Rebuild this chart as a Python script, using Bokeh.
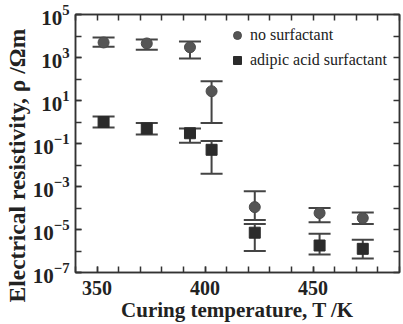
from bokeh.plotting import figure
from bokeh.models import (ColumnDataSource, Whisker, TeeHead, FixedTicker, LogAxis,
                          LinearAxis, Legend, LegendItem, LogTickFormatter, Title)
from bokeh.embed import file_html
from bokeh.resources import INLINE

# Curing temperature (K)
T = [353, 373, 393, 403, 423, 453, 473]
# no surfactant: resistivity (ohm m) with error-bar limits
no_surf = [5.0e3, 4.5e3, 3.0e3, 27, 1.1e-4, 5.8e-5, 3.4e-5]
no_surf_hi = [8.5e3, 6.9e3, 5.5e3, 79, 6.0e-4, 1.0e-4, 6.2e-5]
no_surf_lo = [3.2e3, 2.3e3, 890, 0.91, 2.8e-5, 2.2e-5, 1.8e-5]
# adipic acid surfactant
adipic = [1.0, 0.50, 0.30, 0.051, 7.1e-6, 1.8e-6, 1.26e-6]
adipic_hi = [1.78, 0.89, 0.50, 0.13, 1.8e-5, 6.3e-6, 3.3e-6]
adipic_lo = [0.55, 0.26, 0.107, 3.9e-3, 1.0e-6, 6.9e-7, 4.5e-7]

x_major = [350, 400, 450]
x_minor = [340, 350, 360, 370, 380, 390, 400, 410, 420, 430, 440, 450, 460, 470, 480, 490]
y_major = [1e-7, 1e-5, 1e-3, 1e-1, 1e1, 1e3, 1e5]
y_minor = [1e-7, 1e-6, 1e-5, 1e-4, 1e-3, 1e-2, 1e-1, 1e0, 1e1, 1e2, 1e3, 1e4, 1e5]

x_title = "Curing temperature, T /K"
y_title = "Electrical resistivity, ρ /Ωm"
series_names = ["no surfactant", "adipic acid surfactant"]

FONT = "Liberation Serif"
INK = "#222222"

p = figure(width=403, height=324, output_backend="svg", toolbar_location=None,
           y_axis_type="log", x_range=(340, 490), y_range=(1e-7, 1e5),
           min_border_left=75, min_border_right=4, min_border_top=14, min_border_bottom=52)
p.xgrid.visible = False
p.ygrid.visible = False
p.outline_line_color = "#333333"
p.outline_line_width = 1.5
p.background_fill_color = "white"
p.border_fill_color = "white"

src1 = ColumnDataSource(dict(x=T, y=no_surf, hi=no_surf_hi, lo=no_surf_lo))
src2 = ColumnDataSource(dict(x=T, y=adipic, hi=adipic_hi, lo=adipic_lo))

for src in (src1, src2):
    w = Whisker(source=src, base="x", upper="hi", lower="lo", line_color="#444444", line_width=2,
                upper_head=TeeHead(size=22, line_color="#444444", line_width=2),
                lower_head=TeeHead(size=22, line_color="#444444", line_width=2))
    p.add_layout(w)

r1 = p.scatter("x", "y", source=src1, marker="circle", size=11, fill_color="#555555", line_color="#4a4a4a")
r2 = p.scatter("x", "y", source=src2, marker="square", size=11, fill_color="#2b2b2b", line_color="#2b2b2b")

xt = FixedTicker(ticks=x_major, minor_ticks=x_minor)
yt = FixedTicker(ticks=y_major, minor_ticks=y_minor)
xt_mirror = FixedTicker(ticks=[], minor_ticks=x_minor)
yt_mirror = FixedTicker(ticks=[], minor_ticks=y_minor)

def style_axis(ax, size="20px"):
    ax.axis_line_color = "#333333"
    ax.axis_line_width = 1.5
    ax.major_tick_in = 6
    ax.major_tick_out = 0
    ax.minor_tick_in = 6
    ax.minor_tick_out = 0
    ax.major_tick_line_color = "#333333"
    ax.minor_tick_line_color = "#333333"
    ax.major_tick_line_width = 1.5
    ax.minor_tick_line_width = 1.5
    ax.major_label_text_font = FONT
    ax.major_label_text_font_style = "bold"
    ax.major_label_text_font_size = size
    ax.major_label_text_color = INK

p.xaxis.ticker = xt
p.yaxis.ticker = yt
p.yaxis.formatter = LogTickFormatter()
style_axis(p.xaxis[0], "20px")
style_axis(p.yaxis[0], "21px")
p.xaxis.major_label_standoff = 8
p.yaxis.major_label_standoff = 6

top = LinearAxis(ticker=xt_mirror)
style_axis(top)
p.add_layout(top, "above")
right = LogAxis(ticker=yt_mirror)
style_axis(right)
p.add_layout(right, "right")

xtitle = Title(text=x_title, align="center", text_font=FONT, text_font_style="bold",
               text_font_size="21px", text_color=INK, standoff=-4)
p.add_layout(xtitle, "below")
ytitle = Title(text=y_title, align="left", text_font=FONT, text_font_style="bold",
               text_font_size="23.5px", text_color=INK, standoff=0, offset=-30)
p.add_layout(ytitle, "left")

legend = Legend(items=[LegendItem(label=series_names[0], renderers=[r1]),
                       LegendItem(label=series_names[1], renderers=[r2])],
                location=(152, 202), border_line_alpha=0, background_fill_alpha=0,
                padding=0, margin=0, glyph_width=20, glyph_height=20, spacing=5,
                label_standoff=3, label_text_font=FONT, label_text_font_size="16px",
                label_text_color=INK)
p.add_layout(legend)

open("out.html", "w").write(file_html(p, INLINE))
